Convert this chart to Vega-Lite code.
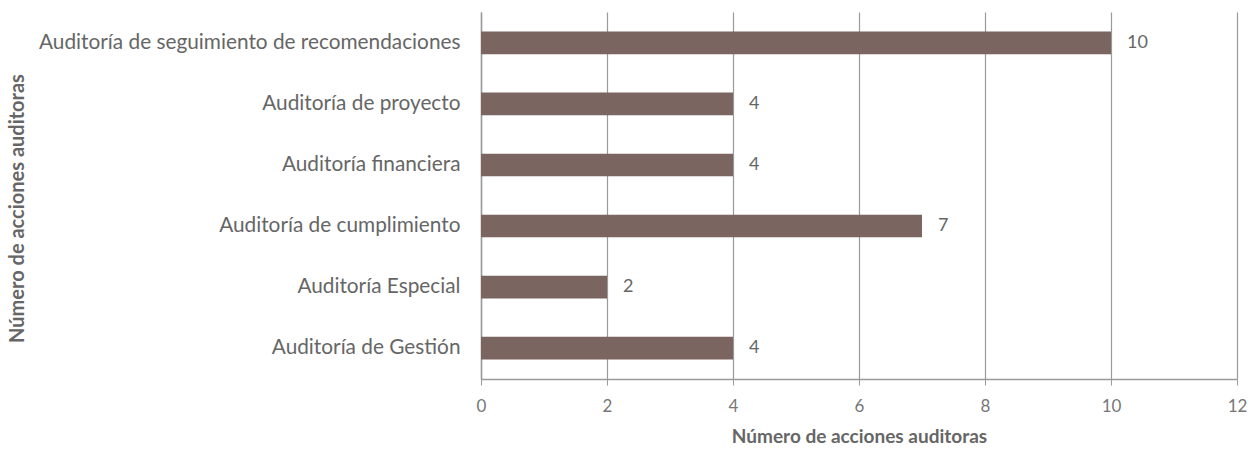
{
  "$schema": "https://vega.github.io/schema/vega-lite/v6.json",
  "autosize": "none",
  "width": 756,
  "height": 367,
  "padding": {"left": 481, "top": 12, "right": 22, "bottom": 76},
  "background": "white",
  "data": {"values": [
    {"tipo": "Auditoría de seguimiento de recomendaciones", "n": 10},
    {"tipo": "Auditoría de proyecto", "n": 4},
    {"tipo": "Auditoría financiera", "n": 4},
    {"tipo": "Auditoría de cumplimiento", "n": 7},
    {"tipo": "Auditoría Especial", "n": 2},
    {"tipo": "Auditoría de Gestión", "n": 4}
  ]},
  "encoding": {
    "y": {"field": "tipo", "type": "nominal", "sort": null,
      "scale": {"paddingInner": 0.63, "paddingOuter": 0.32},
      "axis": {"title": "Número de acciones auditoras", "titleFont": "Lato", "titleFontSize": 20, "titleFontWeight": "bold", "titleColor": "#666666", "titleX": -464, "titleY": 196, "titleBaseline": "middle", "titleAngle": -90,
        "labelFont": "Lato", "labelFontSize": 20.8, "labelColor": "#666666", "labelPadding": 21, "ticks": false, "domainColor": "#9a9a9a", "domainWidth": 1.5, "labelLimit": 600}},
    "x": {"field": "n", "type": "quantitative",
      "scale": {"domain": [0, 12]},
      "axis": {"values": [0, 2, 4, 6, 8, 10, 12], "labelFlush": false, "title": "Número de acciones auditoras", "titleFont": "Lato", "titleFontSize": 19, "titleFontWeight": "bold", "titleColor": "#666666", "titlePadding": 13,
        "labelFont": "Lato", "labelFontSize": 17, "labelColor": "#777777", "labelPadding": 13,
        "grid": true, "gridColor": "#9a9a9a", "gridWidth": 1.2, "domainColor": "#9a9a9a", "domainWidth": 1.5, "tickColor": "#9a9a9a", "tickSize": 6}}
  },
  "layer": [
    {"mark": {"type": "bar", "color": "#7a6561"}},
    {"mark": {"type": "text", "align": "left", "dx": 16, "font": "Lato", "fontSize": 18, "color": "#666666"},
      "encoding": {"text": {"field": "n", "type": "quantitative"}}}
  ],
  "config": {"view": {"stroke": null}}
}
